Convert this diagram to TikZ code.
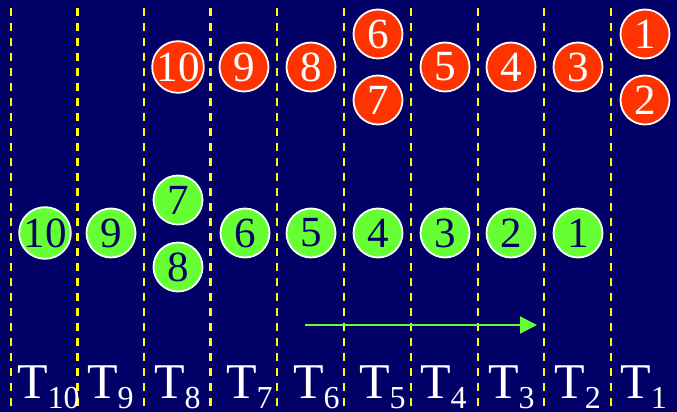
\documentclass[tikz,border=0pt]{standalone}
\usepackage{fontspec}
\setmainfont{Liberation Serif}
\usetikzlibrary{arrows.meta}
\definecolor{bgnavy}{RGB}{0,0,102}
\definecolor{ballred}{RGB}{255,51,0}
\definecolor{ballgreen}{RGB}{102,255,51}
\definecolor{divyellow}{RGB}{255,255,0}
\tikzset{
  ball/.style={circle, draw=white, line width=1.8pt, minimum size=49pt, inner sep=0pt,
    font=\fontsize{43}{43}\selectfont},
  redball/.style={ball, fill=ballred, text=white},
  greenball/.style={ball, fill=ballgreen, text=bgnavy},
  divider/.style={divyellow, line width=2.4pt, dash pattern=on 8pt off 7pt},
  tlabel/.style={anchor=base west, inner sep=0pt, text=white, font=\fontsize{50}{50}\selectfont},
  flow/.style={ballgreen, line width=2pt, -{Triangle[length=17pt,width=17pt]}}
}
\newcommand{\tsub}[1]{T\raisebox{-10pt}{\fontsize{32}{32}\selectfont #1}}
\begin{document}
\begin{tikzpicture}[x=1pt,y=-1pt]
\fill[bgnavy] (0,0) rectangle (677,412);
\useasboundingbox (0,0) rectangle (677,412);
% dividers
\foreach \x in {11,77.5,144,210.5,277,344,411,478,544,611}
  \draw[divider] (\x,8) -- (\x,412);
% red balls
\node[redball] (r10) at (178,67) {10};
\node[redball] (r9) at (244,67) {9};
\node[redball] (r8) at (311,67) {8};
\node[redball] (r6) at (378,34) {6};
\node[redball] (r7) at (378,100) {7};
\node[redball] (r5) at (445,67) {5};
\node[redball] (r4) at (511,67) {4};
\node[redball] (r3) at (578,67) {3};
\node[redball] (r1) at (645,34) {1};
\node[redball] (r2) at (645,100) {2};
% green balls
\node[greenball] (g10) at (45,233) {10};
\node[greenball] (g9) at (111,233) {9};
\node[greenball] (g7) at (178,200) {7};
\node[greenball] (g8) at (178,267) {8};
\node[greenball] (g6) at (245,233) {6};
\node[greenball] (g5) at (311,233) {5};
\node[greenball] (g4) at (378,233) {4};
\node[greenball] (g3) at (445,233) {3};
\node[greenball] (g2) at (511,233) {2};
\node[greenball] (g1) at (578,233) {1};
% arrow
\coordinate (as) at (305,325);
\coordinate (ae) at (537,325);
\draw[flow] (as) -- (ae);
% labels
\node[tlabel] (t10) at (17,398) {\tsub{10}};
\node[tlabel] (t9) at (87,398) {\tsub{9}};
\node[tlabel] (t8) at (154,398) {\tsub{8}};
\node[tlabel] (t7) at (226,398) {\tsub{7}};
\node[tlabel] (t6) at (293,398) {\tsub{6}};
\node[tlabel] (t5) at (359,398) {\tsub{5}};
\node[tlabel] (t4) at (420,398) {\tsub{4}};
\node[tlabel] (t3) at (488,398) {\tsub{3}};
\node[tlabel] (t2) at (554,398) {\tsub{2}};
\node[tlabel] (t1) at (620,398) {\tsub{1}};
\end{tikzpicture}
\end{document}
